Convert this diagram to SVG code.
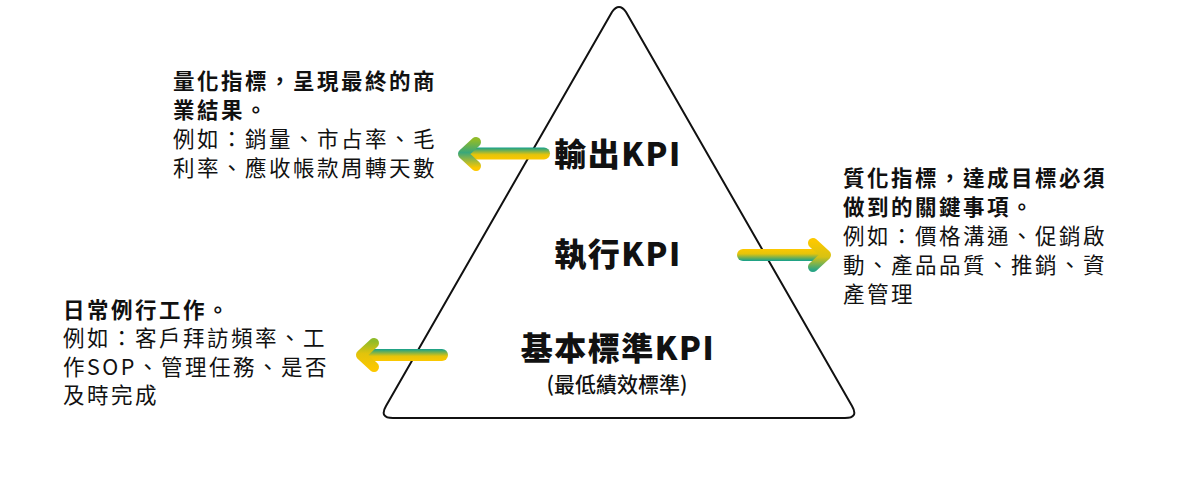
<svg xmlns="http://www.w3.org/2000/svg" width="1200" height="477" viewBox="0 0 1200 477">
<style>
.title{font-family:"Noto Sans CJK TC","Noto Sans",sans-serif;font-weight:900;font-size:32px;fill:#111;text-anchor:middle;letter-spacing:1.5px}
.sub{font-family:"Noto Sans CJK TC","Noto Sans",sans-serif;font-weight:500;font-size:21px;fill:#111;text-anchor:middle}
.b{font-family:"Noto Sans CJK TC","Noto Sans",sans-serif;font-weight:700;font-size:21.5px;fill:#111;letter-spacing:2.5px}
.r{font-family:"Noto Sans CJK TC","Noto Sans",sans-serif;font-weight:400;font-size:21.5px;fill:#111;letter-spacing:2.5px}
.div{stroke-width:6;stroke-linecap:round;fill:none}
.arm{stroke-width:10;stroke-linecap:round;stroke-linejoin:round;fill:none}
</style>
<defs>
<linearGradient id="gh" x1="0" y1="0" x2="1" y2="0">
<stop offset="0" stop-color="#0e9d8f"/>
<stop offset="0.5" stop-color="#b4bd20"/>
<stop offset="1" stop-color="#fcc800"/>
</linearGradient>
<linearGradient id="gTY" x1="0" y1="0" x2="0" y2="1">
<stop offset="0" stop-color="#12a08e"/>
<stop offset="0.6" stop-color="#e6c40a"/>
<stop offset="1" stop-color="#fcc800"/>
</linearGradient>
<linearGradient id="gYT" x1="0" y1="0" x2="0" y2="1">
<stop offset="0" stop-color="#fcc800"/>
<stop offset="0.4" stop-color="#e6c40a"/>
<stop offset="1" stop-color="#12a08e"/>
</linearGradient>
<linearGradient id="a1" gradientUnits="userSpaceOnUse" x1="0" y1="140" x2="0" y2="168">
<stop offset="0" stop-color="#8fbb2a"/>
<stop offset="0.45" stop-color="#3aa77a"/>
<stop offset="1" stop-color="#fcc800"/>
</linearGradient>
<linearGradient id="a2" gradientUnits="userSpaceOnUse" x1="0" y1="241" x2="0" y2="270">
<stop offset="0" stop-color="#fcc800"/>
<stop offset="0.55" stop-color="#d8c212"/>
<stop offset="1" stop-color="#2aa585"/>
</linearGradient>
<linearGradient id="a3" gradientUnits="userSpaceOnUse" x1="0" y1="341" x2="0" y2="369">
<stop offset="0" stop-color="#8fbb2a"/>
<stop offset="0.45" stop-color="#e2c30c"/>
<stop offset="1" stop-color="#fcc800"/>
</linearGradient>
</defs>

<g id="pyramid">
<path d="M612,12 Q619,2 626,12 L852,406 Q859,418 845,418 L393,418 Q379,418 386,406 Z" fill="none" stroke="#111" stroke-width="2" stroke-linejoin="round"/>
</g>

<g id="dividers">
<line class="div" x1="518" y1="205" x2="720" y2="205" stroke="url(#gh)"/>
<line class="div" x1="457" y1="305" x2="781" y2="305" stroke="url(#gh)"/>
</g>

<g id="node-output">
<text class="title" x="618" y="166">輸出KPI</text>
</g>
<g id="node-exec">
<text class="title" x="618" y="266">執行KPI</text>
</g>
<g id="node-basic">
<text class="title" x="618" y="360">基本標準KPI</text>
<text class="sub" x="617" y="392">(最低績效標準)</text>
</g>

<g id="connectors">
<g id="arrow-output">
<rect x="460" y="147.5" width="90" height="12" rx="6" fill="url(#gTY)"/>
<polyline class="arm" points="476,142 463,154 476,166" stroke="url(#a1)"/>
</g>
<g id="arrow-exec">
<rect x="737" y="249" width="90" height="12" rx="6" fill="url(#gYT)"/>
<polyline class="arm" points="813,243 826,255 813,267" stroke="url(#a2)"/>
</g>
<g id="arrow-basic">
<rect x="358" y="349" width="90" height="12" rx="6" fill="url(#gTY)"/>
<polyline class="arm" points="374,343 361,355 374,367" stroke="url(#a3)"/>
</g>
</g>

<g id="note-output">
<text class="b" x="173" y="89">量化指標，呈現最終的商</text>
<text class="b" x="173" y="118">業結果。</text>
<text class="r" x="173" y="147">例如：銷量、市占率、毛</text>
<text class="r" x="173" y="176">利率、應收帳款周轉天數</text>
</g>

<g id="note-exec">
<text class="b" x="843" y="186">質化指標，達成目標必須</text>
<text class="b" x="843" y="215">做到的關鍵事項。</text>
<text class="r" x="843" y="244">例如：價格溝通、促銷啟</text>
<text class="r" x="843" y="273">動、產品品質、推銷、資</text>
<text class="r" x="843" y="302">產管理</text>
</g>

<g id="note-basic">
<text class="b" x="63" y="318">日常例行工作。</text>
<text class="r" x="63" y="346">例如：客戶拜訪頻率、工</text>
<text class="r" x="63" y="375">作SOP、管理任務、是否</text>
<text class="r" x="63" y="403">及時完成</text>
</g>
</svg>
